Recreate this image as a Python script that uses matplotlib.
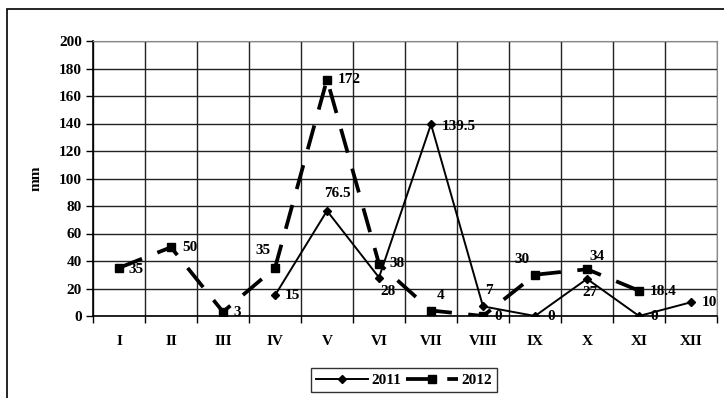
import numpy as np
import matplotlib
matplotlib.use("Agg")
import matplotlib.pyplot as plt
from matplotlib.patches import Rectangle

months = ["I", "II", "III", "IV", "V", "VI", "VII", "VIII", "IX", "X", "XI", "XII"]
rain_2011 = [None, None, None, 15, 76.5, 28, 139.5, 7, 0, 27, 0, 10]
rain_2012 = [35, 50, 3, 35, 172, 38, 4, 0, 30, 34, 18.4, None]

# label offsets (pixels, left edge / vertical centre) per data label
off_2011 = [None, None, None, (10, 0), (-3, 17), (1, -14), (11, -2), (2, 16), (12, 0), (-5, -14), (11, 0), (11, 0)]
off_2012 = [(9, -2), (11, 0), (10, -1), (-20, 17), (11, 0), (10, 0), (6, 15), (11, -1), (-21, 15), (2, 13), (11, -1), None]

FS = 11
plt.rcParams['font.family'] = ['Liberation Serif', 'DejaVu Serif']
plt.rcParams['font.weight'] = 'bold'

fig = plt.figure(figsize=(7.24, 3.98), dpi=100)
ax = fig.add_axes([93 / 724, 1 - 316 / 398, 624 / 724, 275 / 398])

x = np.arange(len(months))
y11 = np.array([np.nan if v is None else v for v in rain_2011], dtype=float)
y12 = np.array([np.nan if v is None else v for v in rain_2012], dtype=float)

ax.plot(x, y11, color="black", lw=1.4, marker="D", ms=4, label="2011", zorder=3)
ax.plot(x, y12, color="black", lw=2.7, marker="s", ms=6, dashes=(6.6, 4.4), label="2012", zorder=3)

for xi, v, o in zip(x, rain_2011, off_2011):
    if v is not None:
        ax.annotate(f"{v:g}", (xi, v), xytext=o, textcoords="offset pixels",
                    fontsize=FS, fontweight="bold", va="center", ha="left")
for xi, v, o in zip(x, rain_2012, off_2012):
    if v is not None:
        ax.annotate(f"{v:g}", (xi, v), xytext=o, textcoords="offset pixels",
                    fontsize=FS, fontweight="bold", va="center", ha="left")

ax.set_xlim(-0.5, 11.5)
ax.set_ylim(0, 200)
ax.set_yticks(np.arange(0, 201, 20))
ax.set_xticks(x)
ax.set_xticklabels(months)
ax.set_xticks(np.arange(-0.5, 12, 1), minor=True)
ax.tick_params(axis="x", which="major", length=0, pad=14, labelsize=FS)
ax.tick_params(axis="x", which="minor", length=5, width=1, color="black")
ax.tick_params(axis="y", length=5, width=1, labelsize=FS, pad=3)
for lab in ax.get_xticklabels() + ax.get_yticklabels():
    lab.set_fontweight("bold")

ax.grid(True, axis="y", which="major", color="#222222", lw=1)
ax.grid(True, axis="x", which="minor", color="#222222", lw=1)
for s in ["top", "right"]:
    ax.spines[s].set_color("#888888")
for s in ["left", "bottom"]:
    ax.spines[s].set_color("black")
    ax.spines[s].set_linewidth(1.2)

ax.set_ylabel("mm", fontsize=FS, fontweight="bold", labelpad=12)

leg = fig.legend(loc="center", bbox_to_anchor=(404 / 724, 1 - 380 / 398), ncol=2,
                 frameon=True, fancybox=False, edgecolor="black",
                 handlelength=3.4, handletextpad=0.2, columnspacing=0.3,
                 borderpad=0.35, prop={"weight": "bold", "size": FS})
leg.get_frame().set_linewidth(1)

fig.patches.append(Rectangle((7 / 724, -0.05), 1.1, 1 - 9 / 398 + 0.05, transform=fig.transFigure,
                             fill=False, edgecolor="black", lw=1.2))

fig.savefig("out.png", dpi=100)
